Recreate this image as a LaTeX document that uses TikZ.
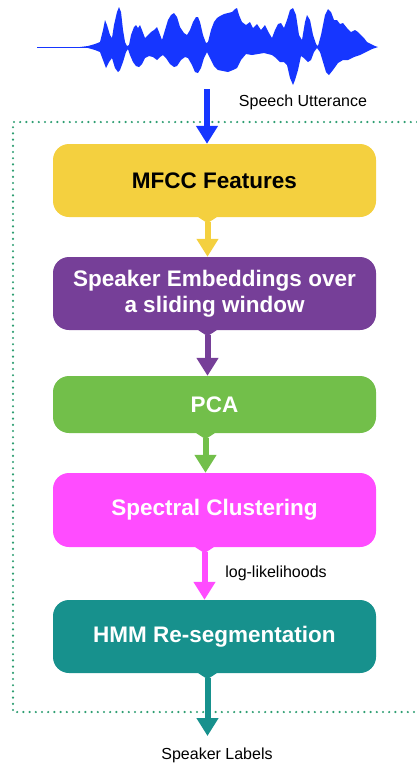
\documentclass[tikz,border=0pt]{standalone}
\usepackage{fontspec}
\setmainfont{Liberation Sans}
\usetikzlibrary{arrows.meta}

\definecolor{mfccyellow}{HTML}{F4D03F}
\definecolor{embpurple}{HTML}{763F98}
\definecolor{pcagreen}{HTML}{72BF4A}
\definecolor{specpink}{HTML}{FF4CFF}
\definecolor{hmmteal}{HTML}{17918D}
\definecolor{waveblue}{HTML}{1636FF}
\definecolor{dotgreen}{HTML}{2E9E72}

\tikzset{
  stage/.style={rounded corners=16pt, minimum width=323pt, inner sep=0pt,
    align=center, font=\fontsize{22.5}{26}\selectfont\bfseries},
  flow/.style={line width=6pt,
    {Triangle[reversed,width=18pt,length=6pt]}-{Triangle[width=21pt,length=18pt]}},
  inflow/.style={line width=6pt, -{Triangle[width=21pt,length=18pt]}},
  tag/.style={font=\fontsize{16}{19}\selectfont}
}

\begin{document}
\begin{tikzpicture}[x=1pt,y=-1pt]
  \useasboundingbox (0,0) rectangle (417,764);

  % waveform
  \draw[waveblue,line width=0.8pt] (37,47) -- (88,47);
  \fill[waveblue] plot coordinates {
    (80,47) (88,46) (95,44) (100,42) (103,30) (105,20) (107,25) (110,35)
    (112,38) (114,25) (117,12) (119,7) (121,12) (123,30) (125,42) (127,46)
    (129,45) (131,35) (134,27) (136,25) (138,28) (140,25) (142,30) (145,38)
    (148,35) (151,32) (154,30) (157,27) (159,32) (162,40) (165,30) (168,20)
    (171,15) (174,13) (177,17) (180,27) (184,33) (187,35) (190,30) (193,22)
    (196,17) (198,17) (200,22) (203,35) (206,43) (208,42) (211,30) (214,22)
    (217,18) (220,16) (224,14) (228,13) (232,12) (235,9) (237,8) (239,15)
    (242,22) (246,25) (250,22) (253,28) (257,24) (261,30) (265,25) (269,33)
    (272,38) (275,30) (278,24) (281,23) (284,28) (287,20) (290,10) (293,8)
    (296,15) (299,35) (302,40) (305,22) (307,15) (310,20) (313,35) (316,44)
    (318,46) (321,35) (325,15) (328,9) (331,12) (334,20) (337,20) (340,24)
    (343,23) (347,28) (351,32) (355,30) (358,32) (361,35) (364,38) (367,42)
    (371,44) (375,46) (378,47)
    (372,49) (366,52) (360,55) (354,57) (348,60) (343,60) (338,63) (333,70)
    (329,75) (326,72) (323,62) (320,52) (317,48) (314,52) (311,60) (308,62)
    (304,58) (301,56) (298,70) (295,80) (293,85) (290,78) (287,65) (284,62)
    (280,62) (276,58) (272,55) (268,54) (264,53) (258,54) (252,55) (246,54)
    (241,60) (237,68) (233,70) (228,72) (223,71) (218,70) (214,66) (210,58)
    (207,52) (204,58) (201,68) (198,73) (195,72) (192,65) (188,58) (185,57)
    (181,60) (177,66) (174,67) (170,64) (166,58) (163,55) (160,57) (157,60)
    (153,57) (149,56) (145,58) (142,64) (139,67) (136,66) (133,62) (130,55)
    (128,49) (126,52) (123,62) (120,70) (118,72) (115,68) (112,58) (109,62)
    (106,68) (103,60) (100,52) (95,50) (88,48) (80,47)} -- cycle;

  % dotted frame
  \draw[dotgreen,line width=2.4pt,line cap=round,dash pattern=on 0pt off 6.2pt]
    (417,122) -- (13,122) -- (13,712) -- (417,712);

  % stages
  \node[stage,fill=mfccyellow,text=black,minimum height=73pt] (mfcc) at (214.5,180.5) {MFCC Features};
  \node[stage,fill=embpurple,text=white,minimum height=73pt] (emb) at (214.5,293.5) {Speaker Embeddings over\\a sliding window};
  \node[stage,fill=pcagreen,text=white,minimum height=57pt] (pca) at (214.5,404.5) {PCA};
  \node[stage,fill=specpink,text=white,minimum height=74pt] (spec) at (214.5,510) {Spectral Clustering};
  \node[stage,fill=hmmteal,text=white,minimum height=73pt] (hmm) at (214.5,636.5) {HMM Re-segmentation};

  \coordinate (wavefoot) at (207,89);
  \coordinate (labeltop) at (207.5,736);
  \node[tag] (speech) at (303,102) {Speech Utterance};
  \node[tag] (loglik) at (276,573) {log-likelihoods};
  \node[tag] (labels) at (217,755) {Speaker Labels};

  % connectors
  \draw[inflow,waveblue] (wavefoot) -- ([xshift=-7.5pt]mfcc.north);
  \draw[flow,mfccyellow] ([xshift=-7pt]mfcc.south) -- ([xshift=-7pt]emb.north);
  \draw[flow,embpurple] ([xshift=-7pt]emb.south) -- ([xshift=-7pt]pca.north);
  \draw[flow,pcagreen] ([xshift=-9pt]pca.south) -- ([xshift=-9pt]spec.north);
  \draw[flow,specpink] ([xshift=-10pt]spec.south) -- ([xshift=-10pt]hmm.north);
  \draw[flow,hmmteal] ([xshift=-7pt]hmm.south) -- (labeltop);
\end{tikzpicture}
\end{document}
